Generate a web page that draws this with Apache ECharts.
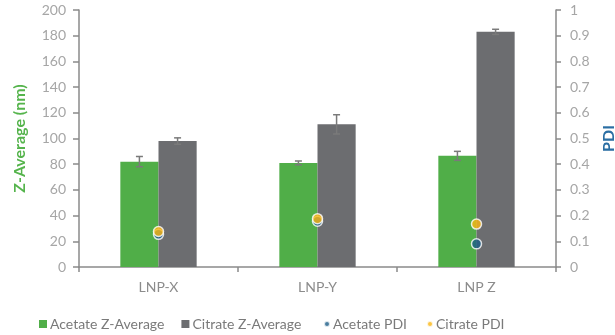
<!DOCTYPE html>
<html>
<head>
<meta charset="utf-8">
<script src="https://cdn.jsdelivr.net/npm/echarts@6/dist/echarts.min.js"></script>
<style>
  html, body { margin: 0; padding: 0; background: #fff; }
  #chart { width: 615px; height: 335px; }
</style>
</head>
<body>
<div id="chart"></div>
<script>
// Formulations on the x axis
const categories = ['LNP-X', 'LNP-Y', 'LNP Z'];

// Z-Average (nm), mean and standard deviation
const acetateZAvg = [82, 81, 86.5];
const acetateZAvgErr = [4, 1.5, 3.5];
const citrateZAvg = [98, 111, 183];
const citrateZAvgErr = [2.5, 7.5, 2];

// Polydispersity index
const acetatePDI = [0.127, 0.178, 0.09];
const citratePDI = [0.138, 0.188, 0.167];

// Axis ranges
const zTicks = { min: 0, max: 200, interval: 20 };
const pdiTicks = { min: 0, max: 1, interval: 0.1 };

const FONT = 'Lato';
const GREEN = '#50ae48';
const GREY = '#6c6d70';
const BLUE = '#1d5c87';
const ORANGE = '#fbb713';
const AXIS = '#8a8a8a';
const LABEL = '#a6a6a6';
const CAT_GAP = 0.52;

function errorBars(means, errs) {
  return means.map((m, i) => [i, m - errs[i], m + errs[i]]);
}

// Draws a vertical error bar with caps, centred on one bar of the pair
function renderError(side) {
  return function (params, api) {
    const band = api.size([1, 0])[0];
    const barW = band * (1 - CAT_GAP) / 2;
    const dx = side * barW / 2;
    const lo = api.coord([api.value(0), api.value(1)]);
    const hi = api.coord([api.value(0), api.value(2)]);
    const x = lo[0] + dx;
    const cap = 3.5;
    const style = { stroke: '#7a7a7a', lineWidth: 1.5 };
    return {
      type: 'group',
      children: [
        { type: 'line', shape: { x1: x, y1: lo[1], x2: x, y2: hi[1] }, style },
        { type: 'line', shape: { x1: x - cap, y1: lo[1], x2: x + cap, y2: lo[1] }, style },
        { type: 'line', shape: { x1: x - cap, y1: hi[1], x2: x + cap, y2: hi[1] }, style }
      ]
    };
  };
}

const chart = echarts.init(document.getElementById('chart'), null, { renderer: 'canvas' });

const legendText = { color: '#7a7a7a', fontSize: 14, fontFamily: FONT, padding: [0, 0, 0, -2] };

chart.setOption({
  animation: false,
  textStyle: { fontFamily: FONT },
  grid: { left: 79, right: 59, top: 10, bottom: 68, containLabel: false, outerBoundsMode: 'none' },
  legend: [
    {
      data: ['Acetate Z-Average', 'Citrate Z-Average'],
      left: 34, top: 312,
      icon: 'rect', itemWidth: 8, itemHeight: 8, itemGap: 17,
      textStyle: legendText
    },
    {
      data: ['Acetate PDI', 'Citrate PDI'],
      left: 318, top: 312,
      icon: 'circle', itemWidth: 6, itemHeight: 6, itemGap: 19,
      textStyle: legendText
    }
  ],
  xAxis: {
    type: 'category',
    data: categories,
    boundaryGap: true,
    axisLine: { lineStyle: { color: AXIS, width: 1.5 } },
    axisTick: { show: true, length: 5, lineStyle: { color: AXIS, width: 1.5 } },
    axisLabel: { color: '#8c8c8c', fontSize: 14, margin: 13, fontFamily: FONT }
  },
  yAxis: [
    {
      type: 'value',
      min: zTicks.min, max: zTicks.max, interval: zTicks.interval,
      name: 'Z-Average (nm)',
      nameLocation: 'middle',
      nameGap: 51,
      nameTextStyle: { color: '#55b44c', fontSize: 16, fontWeight: 'bold', fontFamily: FONT },
      axisLine: { show: true, lineStyle: { color: AXIS, width: 1.5 } },
      axisTick: { show: true, length: 6, lineStyle: { color: AXIS, width: 1.5 } },
      axisLabel: { color: LABEL, fontSize: 14, margin: 13, fontFamily: FONT },
      splitLine: { show: false }
    },
    {
      type: 'value',
      position: 'right',
      min: pdiTicks.min, max: pdiTicks.max, interval: pdiTicks.interval,
      name: 'PDI',
      nameLocation: 'middle',
      nameRotate: 90,
      nameGap: 45,
      nameTextStyle: { color: '#2a6ea3', fontSize: 16, fontWeight: 'bold', fontFamily: FONT },
      axisLine: { show: true, lineStyle: { color: AXIS, width: 1.5 } },
      axisTick: { show: true, length: 5, lineStyle: { color: AXIS, width: 1.5 } },
      axisLabel: { color: LABEL, fontSize: 14, margin: 14, fontFamily: FONT },
      splitLine: { show: false }
    }
  ],
  series: [
    {
      name: 'Acetate Z-Average',
      type: 'bar',
      data: acetateZAvg,
      barGap: 0,
      barCategoryGap: (CAT_GAP * 100) + '%',
      itemStyle: { color: GREEN },
      z: 2
    },
    {
      name: 'Citrate Z-Average',
      type: 'bar',
      data: citrateZAvg,
      barGap: 0,
      barCategoryGap: (CAT_GAP * 100) + '%',
      itemStyle: { color: GREY },
      z: 2
    },
    {
      type: 'custom',
      name: 'acetateErr',
      renderItem: renderError(-1),
      data: errorBars(acetateZAvg, acetateZAvgErr),
      encode: { x: 0, y: [1, 2] },
      z: 3
    },
    {
      type: 'custom',
      name: 'citrateErr',
      renderItem: renderError(1),
      data: errorBars(citrateZAvg, citrateZAvgErr),
      encode: { x: 0, y: [1, 2] },
      z: 3
    },
    {
      name: 'Acetate PDI',
      type: 'scatter',
      yAxisIndex: 1,
      data: acetatePDI,
      symbolSize: 10,
      itemStyle: { color: BLUE, borderColor: '#fff', borderWidth: 1.5 },
      z: 4
    },
    {
      name: 'Citrate PDI',
      type: 'scatter',
      yAxisIndex: 1,
      data: citratePDI,
      symbolSize: 10,
      itemStyle: { color: ORANGE, borderColor: '#fff', borderWidth: 1.5 },
      z: 5
    }
  ]
});
</script>
</body>
</html>
